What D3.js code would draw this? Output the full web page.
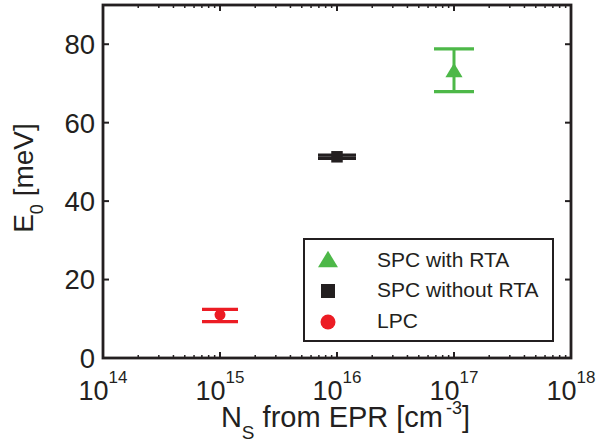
<!DOCTYPE html>
<html><head><meta charset="utf-8">
<script src="https://cdn.jsdelivr.net/npm/d3@7"></script>
<style>html,body{margin:0;padding:0;background:#fff;}svg{display:block;font-family:"Liberation Sans",Arial,Helvetica,sans-serif;}</style>
</head><body>
<svg id="c" width="597" height="444"></svg>
<script>
// ---- data ----
const seriesNames = ["SPC with RTA", "SPC without RTA", "LPC"];
const nsValues = [1e17, 1e16, 1e15];
const e0Values = [73.4, 51.3, 11.0];
const e0Low = [67.9, 50.9, 9.25];
const e0High = [78.8, 51.7, 12.4];
const xTickExponents = [14, 15, 16, 17, 18];
const yTickValues = [0, 20, 40, 60, 80];

// ---- style ----
const colors = ["#4db848", "#231f20", "#ec1c24"];
const markerShapes = ["triangle", "square", "circle"];
const capHalf = [20, 19, 18];
const ink = "#231f20";

const svg = d3.select("#c");
const L = 103, R = 571, T = 5, B = 358;
const x = d3.scaleLog().domain([1e14, 1e18]).range([L, R]);
const y = d3.scaleLinear().domain([0, 90]).range([B, T]);

const g = svg.append("g");

// minor x ticks
const minor = [];
for (let e = 14; e < 18; e++) for (let k = 2; k <= 9; k++) minor.push(k * Math.pow(10, e));
g.selectAll(".mxb").data(minor).enter().append("line")
  .attr("x1", d => x(d)).attr("x2", d => x(d)).attr("y1", B).attr("y2", B - 3)
  .attr("stroke", ink).attr("stroke-width", 1.5);
g.selectAll(".mxt").data(minor).enter().append("line")
  .attr("x1", d => x(d)).attr("x2", d => x(d)).attr("y1", T).attr("y2", T + 3)
  .attr("stroke", ink).attr("stroke-width", 1.5);
// major x ticks
const majors = xTickExponents.map(e => Math.pow(10, e));
g.selectAll(".Mxb").data(majors).enter().append("line")
  .attr("x1", d => x(d)).attr("x2", d => x(d)).attr("y1", B).attr("y2", B - 6)
  .attr("stroke", ink).attr("stroke-width", 2);
g.selectAll(".Mxt").data(majors).enter().append("line")
  .attr("x1", d => x(d)).attr("x2", d => x(d)).attr("y1", T).attr("y2", T + 6)
  .attr("stroke", ink).attr("stroke-width", 2);
// y ticks
g.selectAll(".yl").data(yTickValues).enter().append("line")
  .attr("x1", L).attr("x2", L + 6).attr("y1", d => y(d)).attr("y2", d => y(d))
  .attr("stroke", ink).attr("stroke-width", 2);
g.selectAll(".yr").data(yTickValues).enter().append("line")
  .attr("x1", R).attr("x2", R - 6).attr("y1", d => y(d)).attr("y2", d => y(d))
  .attr("stroke", ink).attr("stroke-width", 2);

// y tick labels
g.selectAll(".ytl").data(yTickValues).enter().append("text")
  .attr("x", L - 8).attr("y", d => y(d)).attr("dy", "0.36em")
  .attr("text-anchor", "end").attr("font-size", 27.5).attr("fill", ink)
  .text(d => d);

// x tick labels
const xt = g.selectAll(".xtl").data(xTickExponents).enter().append("text")
  .attr("x", e => x(Math.pow(10, e))).attr("y", 400)
  .attr("text-anchor", "middle").attr("fill", ink);
xt.append("tspan").attr("font-size", 27).text("10");
xt.append("tspan").attr("font-size", 17).attr("dy", -17).text(e => e);

// axes box
g.append("rect").attr("x", L).attr("y", T).attr("width", R - L).attr("height", B - T)
  .attr("fill", "none").attr("stroke", ink).attr("stroke-width", 2.8);

// axis labels
const xl = svg.append("text").attr("x", 345.5).attr("y", 427).attr("text-anchor", "middle")
  .attr("fill", ink).attr("font-size", 29);
xl.append("tspan").text("N");
xl.append("tspan").attr("font-size", 19).attr("dy", 12).text("S");
xl.append("tspan").attr("dy", -12).text(" from EPR [cm");
xl.append("tspan").attr("font-size", 18).attr("dy", -13).attr("dx", 3).text("-3");
xl.append("tspan").attr("dy", 13).text("]");

const yl = svg.append("text").attr("transform", "translate(33,178) rotate(-90)")
  .attr("text-anchor", "middle").attr("fill", ink).attr("font-size", 28);
yl.append("tspan").text("E");
yl.append("tspan").attr("font-size", 18).attr("dy", 10).text("0");
yl.append("tspan").attr("dy", -10).text(" [meV]");

// markers
function drawMarker(sel, shape, cx, cy, s, color) {
  if (shape === "triangle") {
    const w = s * 0.95, h = s * 0.78;
    sel.append("path").attr("d", `M${cx},${cy - h / 2}L${cx + w / 2},${cy + h / 2}L${cx - w / 2},${cy + h / 2}Z`).attr("fill", color);
  } else if (shape === "square") {
    sel.append("rect").attr("x", cx - s / 2).attr("y", cy - s / 2).attr("width", s).attr("height", s).attr("fill", color);
  } else {
    sel.append("circle").attr("cx", cx).attr("cy", cy).attr("r", s / 2).attr("fill", color);
  }
}

const markerSizes = [18, 11.5, 11];
const pts = svg.append("g");
seriesNames.forEach((n, i) => {
  const cx = x(nsValues[i]);
  const c = colors[i];
  const gg = pts.append("g");
  gg.append("line").attr("x1", cx).attr("x2", cx).attr("y1", y(e0Low[i])).attr("y2", y(e0High[i]))
    .attr("stroke", c).attr("stroke-width", 3);
  [e0Low[i], e0High[i]].forEach(v => {
    gg.append("line").attr("x1", cx - capHalf[i]).attr("x2", cx + capHalf[i])
      .attr("y1", y(v)).attr("y2", y(v)).attr("stroke", c).attr("stroke-width", 3.2);
  });
  drawMarker(gg, markerShapes[i], cx, y(e0Values[i]), markerSizes[i], c);
});

// legend
const lg = svg.append("g");
lg.append("rect").attr("x", 304).attr("y", 239).attr("width", 249).attr("height", 102)
  .attr("fill", "#fff").attr("stroke", ink).attr("stroke-width", 2);
const legMarkerY = [259, 291, 322];
const legTextY = [267, 297, 328];
const legSizes = [21, 14, 15];
seriesNames.forEach((n, i) => {
  drawMarker(lg, markerShapes[i], 328, legMarkerY[i], legSizes[i], colors[i]);
  lg.append("text").attr("x", 377).attr("y", legTextY[i]).attr("font-size", 21)
    .attr("fill", ink).text(n);
});
</script>
</body></html>
